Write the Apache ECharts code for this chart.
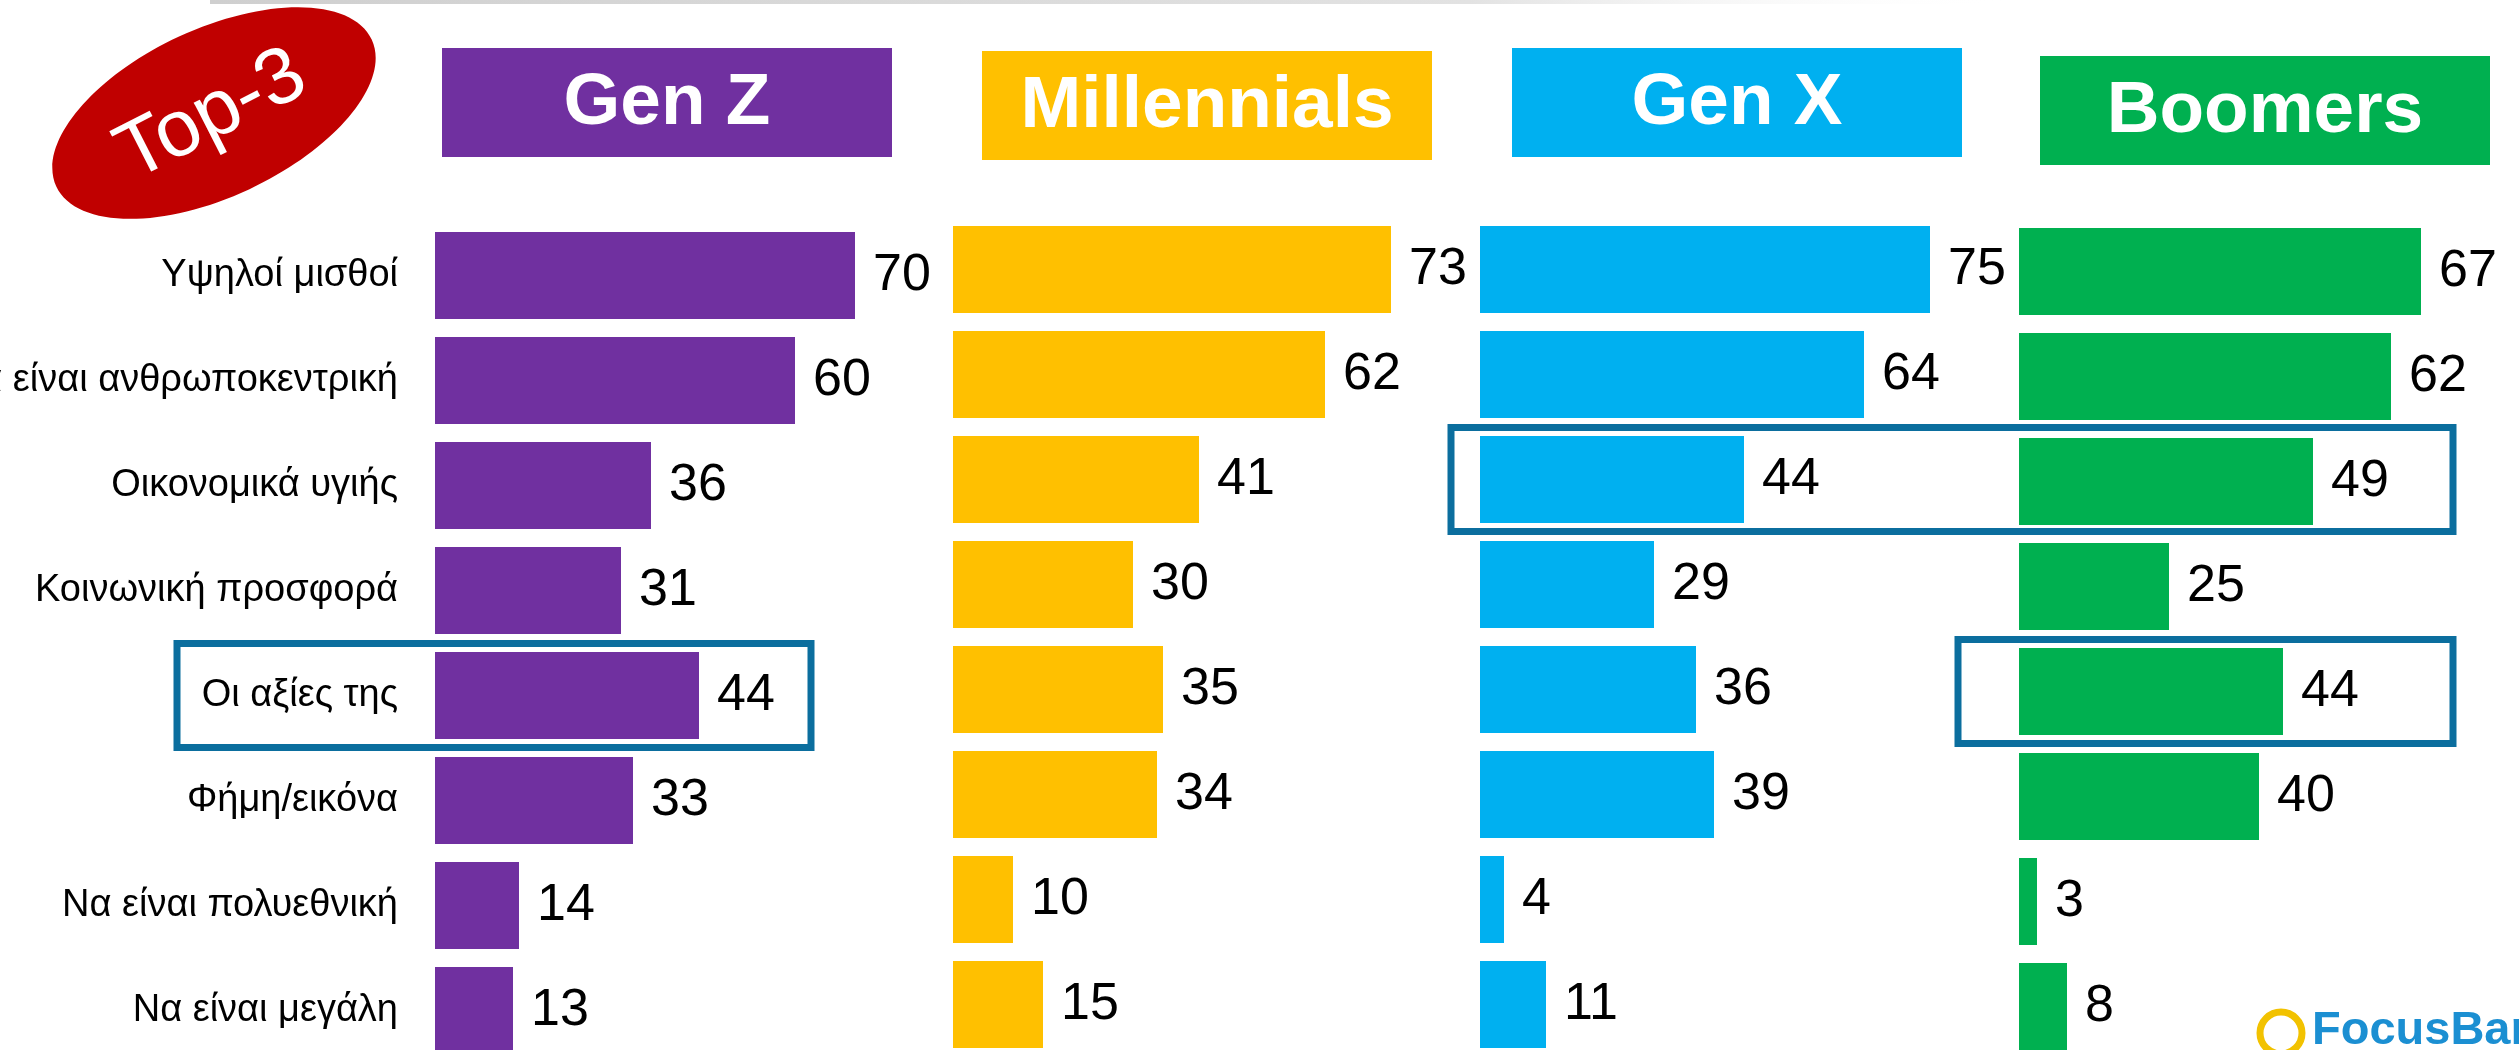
<!DOCTYPE html>
<html>
<head>
<meta charset="utf-8">
<title>Top-3</title>
<script src="https://cdn.jsdelivr.net/npm/echarts@6/dist/echarts.min.js"></script>
<style>
  html, body { margin: 0; padding: 0; background: #ffffff; }
  #chart { width: 2519px; height: 1050px; }
</style>
</head>
<body>
<div id="chart"></div>
<script>
// categories, top to bottom
var categories = ['Υψηλοί μισθοί', 'Να είναι ανθρωποκεντρική', 'Οικονομικά υγιής', 'Κοινωνική προσφορά', 'Οι αξίες της', 'Φήμη/εικόνα', 'Να είναι πολυεθνική', 'Να είναι μεγάλη']
var generations = ['Gen Z', 'Millennials', 'Gen X', 'Boomers']
var genZ = [70, 60, 36, 31, 44, 33, 14, 13]
var millennials = [73, 62, 41, 30, 35, 34, 10, 15]
var genX = [75, 64, 44, 29, 36, 39, 4, 11]
var boomers = [67, 62, 49, 25, 44, 40, 3, 8]
var values = [genZ, millennials, genX, boomers]
var colors = ['#7030A0', '#FFC000', '#00B0F0', '#00B050']

// highlighted cells: generation column(s) and category row
var highlights = [
  { from: 0, to: 0, cat: 'Οι αξίες της', left: -258, right: 376 },
  { from: 2, to: 3, cat: 'Οικονομικά υγιής', left: -29, right: 434 },
  { from: 3, to: 3, cat: 'Οι αξίες της', left: -61, right: 434 }
]

// layout
var gridLeft = [435, 953, 1480, 2019]
var gridTop = [223, 217, 217, 219]
var headerPos = [[442, 48], [982, 51], [1512, 48], [2040, 56]]
var font = 'Liberation Sans, Arial, sans-serif'

var chart = echarts.init(document.getElementById('chart'))

var grids = []
var xAxes = []
var yAxes = []
var series = []
generations.forEach(function (g, i) {
  grids.push({
    left: gridLeft[i], top: gridTop[i], width: 600, height: 840,
    containLabel: false, outerBoundsMode: 'none'
  })
  xAxes.push({
    type: 'value', gridIndex: i, min: 0, max: 100,
    show: false, splitLine: { show: false }
  })
  yAxes.push({
    type: 'category', gridIndex: i, data: categories, inverse: true,
    axisLine: { show: false }, axisTick: { show: false },
    axisLabel: {
      show: i === 0, margin: 37, fontSize: 38, color: '#000000', fontFamily: font
    }
  })
  series.push({
    name: g,
    type: 'bar',
    xAxisIndex: i,
    yAxisIndex: i,
    data: values[i],
    barWidth: 87,
    itemStyle: { color: colors[i] },
    label: {
      show: true, position: 'right', distance: 18,
      fontSize: 52, color: '#000000', fontFamily: font
    },
    animation: false
  })
})

var graphics = []
// faint line on top edge
graphics.push({
  type: 'rect', shape: { x: 210, y: 0, width: 1800, height: 4 },
  style: {
    fill: new echarts.graphic.LinearGradient(0, 0, 1, 0, [
      { offset: 0, color: '#cfcfcf' }, { offset: 0.7, color: '#e2e2e2' }, { offset: 1, color: 'rgba(255,255,255,0)' }
    ])
  }
})
// Top-3 badge
graphics.push({
  type: 'ellipse', shape: { cx: 214, cy: 113, rx: 174, ry: 84 },
  rotation: 25 * Math.PI / 180, originX: 214, originY: 113,
  style: { fill: '#C00000' }
})
graphics.push({
  type: 'text', x: 212, y: 116, rotation: 27 * Math.PI / 180,
  style: {
    text: 'Top-3', fill: '#ffffff', font: '80px ' + font,
    textAlign: 'center', textVerticalAlign: 'middle'
  }
})
// generation headers
generations.forEach(function (g, i) {
  graphics.push({
    type: 'rect', shape: { x: headerPos[i][0], y: headerPos[i][1], width: 450, height: 109 },
    style: { fill: colors[i] }
  })
  graphics.push({
    type: 'text', x: headerPos[i][0] + 225, y: headerPos[i][1] + 56,
    style: {
      text: g, fill: '#ffffff', font: 'bold 73px ' + font,
      textAlign: 'center', textVerticalAlign: 'middle'
    }
  })
})
// logo
graphics.push({
  type: 'circle', shape: { cx: 2281, cy: 1033, r: 21 },
  style: { fill: 'none', stroke: '#F2C200', lineWidth: 7 }
})
graphics.push({
  type: 'text', x: 2312, y: 1055,
  style: {
    text: 'FocusBari', fill: '#1B8FD2', font: 'bold 47px ' + font,
    textAlign: 'left', textVerticalAlign: 'bottom'
  }
})

chart.setOption({
  backgroundColor: '#ffffff',
  animation: false,
  grid: grids,
  xAxis: xAxes,
  yAxis: yAxes,
  series: series,
  graphic: graphics
})

// highlight boxes placed from the axes
var boxes = highlights.map(function (h) {
  var p0 = chart.convertToPixel({ gridIndex: h.from }, [0, h.cat])
  var p1 = chart.convertToPixel({ gridIndex: h.to }, [0, h.cat])
  var x0 = p0[0] + h.left
  var x1 = p1[0] + h.right
  return {
    type: 'rect',
    shape: { x: x0, y: p0[1] - 52, width: x1 - x0, height: 104 },
    style: { fill: 'none', stroke: '#0B6E9E', lineWidth: 7 },
    z: 10
  }
})
chart.setOption({ graphic: graphics.concat(boxes) })
</script>
</body>
</html>
